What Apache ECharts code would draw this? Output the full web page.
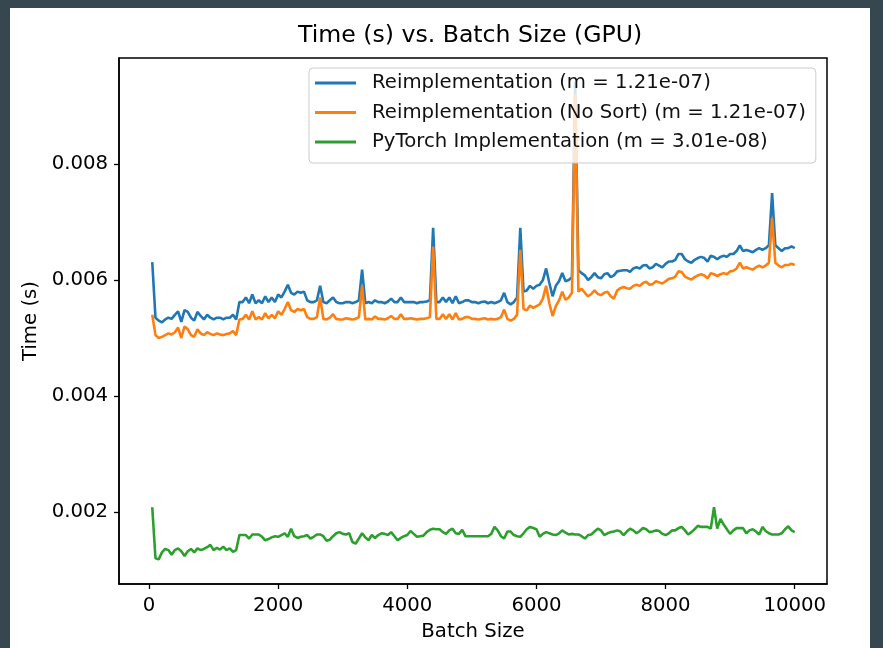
<!DOCTYPE html>
<html>
<head>
<meta charset="utf-8">
<script src="https://cdn.jsdelivr.net/npm/echarts@6/dist/echarts.min.js"></script>
<style>
  html, body { margin: 0; padding: 0; width: 883px; height: 648px; background: #37474f; overflow: hidden; }
  #panel { position: absolute; left: 10px; top: 8px; width: 860px; height: 640px; background: #ffffff; }
  #chart { width: 860px; height: 640px; }
</style>
</head>
<body>
<div id="panel"><div id="chart"></div></div>
<script>
// Batch sizes: evenly spaced grid 50, 100, ..., 10000
const batchSizes = Array.from({ length: 200 }, (_, i) => 50 * (i + 1));

const xTicks = [0, 2000, 4000, 6000, 8000, 10000];
const yTicks = [0.002, 0.004, 0.006, 0.008];

const seriesNames = [
  'Reimplementation (m = 1.21e-07)',
  'Reimplementation (No Sort) (m = 1.21e-07)',
  'PyTorch Implementation (m = 3.01e-08)'
];

const reimpl = [
  0.00631, 0.00535, 0.00530, 0.00527, 0.00532, 0.00535, 0.00533, 0.00540, 0.00546, 0.00528,
  0.00548, 0.00545, 0.00535, 0.00530, 0.00545, 0.00538, 0.00532, 0.00540, 0.00535, 0.00532,
  0.00535, 0.00535, 0.00532, 0.00535, 0.00535, 0.00540, 0.00532, 0.00562, 0.00562, 0.00570,
  0.00560, 0.00575, 0.00560, 0.00565, 0.00560, 0.00572, 0.00562, 0.00570, 0.00562, 0.00575,
  0.00570, 0.00580, 0.00592, 0.00578, 0.00575, 0.00580, 0.00578, 0.00580, 0.00565, 0.00562,
  0.00562, 0.00565, 0.00590, 0.00562, 0.00560, 0.00565, 0.00570, 0.00562, 0.00560, 0.00560,
  0.00562, 0.00562, 0.00560, 0.00562, 0.00565, 0.00618, 0.00560, 0.00562, 0.00560, 0.00565,
  0.00562, 0.00562, 0.00560, 0.00563, 0.00568, 0.00562, 0.00562, 0.00570, 0.00562, 0.00562,
  0.00562, 0.00562, 0.00560, 0.00562, 0.00562, 0.00563, 0.00565, 0.00690, 0.00562, 0.00562,
  0.00570, 0.00562, 0.00570, 0.00560, 0.00572, 0.00560, 0.00562, 0.00565, 0.00565, 0.00562,
  0.00562, 0.00560, 0.00562, 0.00563, 0.00560, 0.00562, 0.00560, 0.00562, 0.00565, 0.00578,
  0.00562, 0.00558, 0.00562, 0.00570, 0.00690, 0.00580, 0.00582, 0.00590, 0.00585, 0.00590,
  0.00592, 0.00600, 0.00620, 0.00595, 0.00572, 0.00590, 0.00598, 0.00612, 0.00598, 0.00600,
  0.00605, 0.00942, 0.00617, 0.00612, 0.00608, 0.00600, 0.00605, 0.00612, 0.00605, 0.00603,
  0.00610, 0.00612, 0.00605, 0.00608, 0.00615, 0.00616, 0.00617, 0.00617, 0.00614, 0.00620,
  0.00622, 0.00620, 0.00625, 0.00626, 0.00620, 0.00622, 0.00628, 0.00625, 0.00622, 0.00628,
  0.00632, 0.00632, 0.00635, 0.00645, 0.00645, 0.00636, 0.00632, 0.00630, 0.00635, 0.00638,
  0.00640, 0.00638, 0.00632, 0.00642, 0.00640, 0.00636, 0.00640, 0.00642, 0.00640, 0.00645,
  0.00645, 0.00650, 0.00660, 0.00650, 0.00652, 0.00650, 0.00648, 0.00652, 0.00655, 0.00652,
  0.00655, 0.00660, 0.00750, 0.00660, 0.00655, 0.00650, 0.00655, 0.00655, 0.00658, 0.00655
];

const reimplNoSort = [
  0.00540, 0.00505, 0.00500, 0.00502, 0.00505, 0.00508, 0.00506, 0.00510, 0.00518, 0.00500,
  0.00520, 0.00515, 0.00505, 0.00502, 0.00515, 0.00508, 0.00505, 0.00510, 0.00507, 0.00505,
  0.00508, 0.00506, 0.00505, 0.00507, 0.00508, 0.00512, 0.00505, 0.00532, 0.00533, 0.00540,
  0.00532, 0.00546, 0.00532, 0.00536, 0.00532, 0.00543, 0.00534, 0.00540, 0.00534, 0.00546,
  0.00540, 0.00550, 0.00562, 0.00548, 0.00545, 0.00550, 0.00548, 0.00550, 0.00536, 0.00533,
  0.00533, 0.00536, 0.00570, 0.00533, 0.00532, 0.00535, 0.00541, 0.00533, 0.00532, 0.00532,
  0.00534, 0.00533, 0.00532, 0.00533, 0.00536, 0.00590, 0.00532, 0.00533, 0.00532, 0.00537,
  0.00533, 0.00533, 0.00532, 0.00534, 0.00538, 0.00533, 0.00533, 0.00541, 0.00533, 0.00533,
  0.00534, 0.00533, 0.00532, 0.00533, 0.00533, 0.00534, 0.00536, 0.00658, 0.00533, 0.00533,
  0.00541, 0.00533, 0.00541, 0.00532, 0.00543, 0.00532, 0.00533, 0.00536, 0.00536, 0.00533,
  0.00533, 0.00532, 0.00533, 0.00534, 0.00532, 0.00533, 0.00532, 0.00533, 0.00536, 0.00549,
  0.00533, 0.00530, 0.00533, 0.00540, 0.00652, 0.00550, 0.00548, 0.00556, 0.00552, 0.00555,
  0.00558, 0.00568, 0.00590, 0.00560, 0.00538, 0.00555, 0.00565, 0.00580, 0.00566, 0.00570,
  0.00578, 0.00920, 0.00580, 0.00585, 0.00578, 0.00572, 0.00576, 0.00582, 0.00576, 0.00574,
  0.00578, 0.00580, 0.00572, 0.00568, 0.00582, 0.00586, 0.00588, 0.00586, 0.00585, 0.00590,
  0.00592, 0.00590, 0.00595, 0.00597, 0.00592, 0.00593, 0.00598, 0.00596, 0.00594, 0.00598,
  0.00602, 0.00603, 0.00606, 0.00615, 0.00614, 0.00606, 0.00603, 0.00601, 0.00605, 0.00608,
  0.00610, 0.00608, 0.00603, 0.00612, 0.00610, 0.00607, 0.00610, 0.00612, 0.00610, 0.00615,
  0.00616, 0.00620, 0.00630, 0.00620, 0.00622, 0.00620, 0.00618, 0.00622, 0.00625, 0.00622,
  0.00625, 0.00630, 0.00707, 0.00630, 0.00625, 0.00622, 0.00626, 0.00626, 0.00628, 0.00626
];

const pytorch = [
  0.00208, 0.00120, 0.00118, 0.00130, 0.00136, 0.00134, 0.00126, 0.00134, 0.00137, 0.00132,
  0.00124, 0.00132, 0.00136, 0.00130, 0.00137, 0.00134, 0.00136, 0.00139, 0.00143, 0.00134,
  0.00138, 0.00135, 0.00140, 0.00134, 0.00137, 0.00131, 0.00134, 0.00160, 0.00160, 0.00160,
  0.00154, 0.00161, 0.00161, 0.00161, 0.00157, 0.00151, 0.00153, 0.00156, 0.00158, 0.00157,
  0.00160, 0.00163, 0.00157, 0.00171, 0.00158, 0.00155, 0.00157, 0.00158, 0.00160, 0.00154,
  0.00157, 0.00161, 0.00161, 0.00158, 0.00150, 0.00152, 0.00158, 0.00163, 0.00165, 0.00162,
  0.00161, 0.00163, 0.00148, 0.00145, 0.00154, 0.00163, 0.00156, 0.00151, 0.00160, 0.00155,
  0.00160, 0.00163, 0.00162, 0.00160, 0.00165, 0.00158, 0.00151, 0.00155, 0.00158, 0.00160,
  0.00167, 0.00162, 0.00157, 0.00158, 0.00159, 0.00165, 0.00169, 0.00171, 0.00170, 0.00170,
  0.00165, 0.00162, 0.00168, 0.00171, 0.00163, 0.00162, 0.00169, 0.00158, 0.00158, 0.00158,
  0.00158, 0.00158, 0.00158, 0.00158, 0.00158, 0.00162, 0.00174, 0.00168, 0.00158, 0.00154,
  0.00166, 0.00166, 0.00160, 0.00158, 0.00157, 0.00163, 0.00170, 0.00174, 0.00172, 0.00170,
  0.00157, 0.00162, 0.00165, 0.00163, 0.00161, 0.00160, 0.00163, 0.00168, 0.00164, 0.00161,
  0.00162, 0.00161, 0.00161, 0.00158, 0.00154, 0.00160, 0.00161, 0.00166, 0.00171, 0.00168,
  0.00160, 0.00163, 0.00165, 0.00166, 0.00168, 0.00166, 0.00160, 0.00166, 0.00171, 0.00168,
  0.00163, 0.00167, 0.00172, 0.00170, 0.00165, 0.00166, 0.00168, 0.00167, 0.00162, 0.00160,
  0.00163, 0.00168, 0.00168, 0.00172, 0.00174, 0.00168, 0.00161, 0.00165, 0.00170, 0.00176,
  0.00174, 0.00174, 0.00174, 0.00171, 0.00208, 0.00171, 0.00188, 0.00178, 0.00170, 0.00162,
  0.00168, 0.00172, 0.00172, 0.00172, 0.00163, 0.00168, 0.00170, 0.00166, 0.00161, 0.00174,
  0.00167, 0.00163, 0.00161, 0.00161, 0.00161, 0.00163, 0.00170, 0.00175, 0.00168, 0.00165
];

const colors = ['#1f77b4', '#ff7f0e', '#2ca02c'];
const FONT = 'DejaVu Sans';
const FS = 19.7;

function pairs(ys) { return batchSizes.map((x, i) => [x, ys[i]]); }

const chart = echarts.init(document.getElementById('chart'), null, { renderer: 'canvas' });

const seriesData = [reimpl, reimplNoSort, pytorch];

chart.setOption({
  animation: false,
  backgroundColor: '#ffffff',
  title: {
    text: 'Time (s) vs. Batch Size (GPU)',
    left: 288,
    top: 16,
    padding: 0,
    textStyle: { fontFamily: FONT, fontSize: 23.6, fontWeight: 'normal', color: '#000' }
  },
  legend: {
    orient: 'vertical',
    left: 299,
    top: 60,
    padding: [5, 10, 11, 6],
    itemGap: 9.5,
    itemWidth: 41,
    itemHeight: 3,
    icon: 'rect',
    backgroundColor: 'rgba(255,255,255,0.8)',
    borderColor: '#cccccc',
    borderWidth: 1,
    borderRadius: 4,
    textStyle: { fontFamily: FONT, fontSize: FS, color: '#111', lineHeight: 20, padding: [0, 0, 0, 11] },
    data: seriesNames
  },
  grid: {
    left: 109, right: 43, top: 50, bottom: 64,
    show: true, borderColor: '#000', borderWidth: 1.5, backgroundColor: 'transparent'
  },
  xAxis: {
    type: 'value',
    min: -465, max: 10500,
    name: 'Batch Size',
    nameLocation: 'middle',
    nameGap: 38,
    nameTextStyle: { fontFamily: FONT, fontSize: FS, color: '#000' },
    axisLine: { show: true, onZero: false, lineStyle: { color: '#000', width: 1.5 } },
    axisTick: { show: true, length: 5, customValues: xTicks, lineStyle: { color: '#000', width: 1.3 } },
    axisLabel: { customValues: xTicks, margin: 12, fontFamily: FONT, fontSize: FS, color: '#000',
                 formatter: v => String(v) },
    splitLine: { show: false }
  },
  yAxis: {
    type: 'value',
    min: 0.000755, max: 0.009832,
    name: 'Time (s)',
    nameLocation: 'middle',
    nameGap: 76,
    nameTextStyle: { fontFamily: FONT, fontSize: FS, color: '#000' },
    axisLine: { show: true, onZero: false, lineStyle: { color: '#000', width: 1.5 } },
    axisTick: { show: true, length: 5, customValues: yTicks, lineStyle: { color: '#000', width: 1.3 } },
    axisLabel: { customValues: yTicks, margin: 11, fontFamily: FONT, fontSize: FS, color: '#000',
                 formatter: v => v.toFixed(3) },
    splitLine: { show: false }
  },
  series: seriesNames.map((name, k) => ({
    name: name,
    type: 'line',
    data: pairs(seriesData[k]),
    showSymbol: false,
    symbol: 'none',
    color: colors[k],
    lineStyle: { color: colors[k], width: 2.6 },
    z: 2 + k
  }))
});
</script>
</body>
</html>
